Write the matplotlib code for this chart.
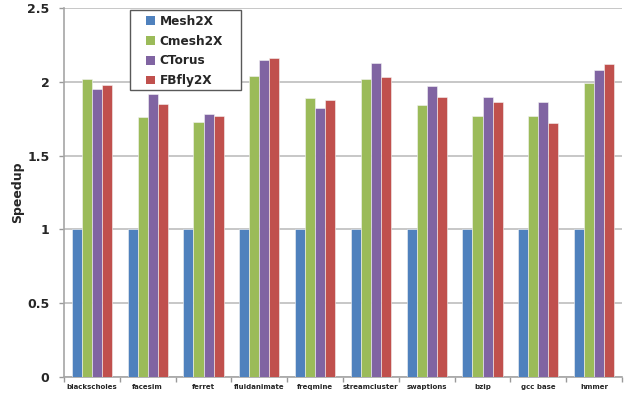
import matplotlib
matplotlib.use("Agg")
import matplotlib.pyplot as plt
from matplotlib.patches import Rectangle
from matplotlib.container import BarContainer
from matplotlib.legend_handler import HandlerPatch, update_from_first_child
import numpy as np

benchmarks = ["blackscholes", "facesim", "ferret", "fluidanimate", "freqmine",
              "streamcluster", "swaptions", "bzip", "gcc base", "hmmer"]
series_names = ["Mesh2X", "Cmesh2X", "CTorus", "FBfly2X"]
mesh2x = [1, 1, 1, 1, 1, 1, 1, 1, 1, 1]
cmesh2x = [2.02, 1.76, 1.73, 2.04, 1.89, 2.02, 1.84, 1.77, 1.77, 1.99]
ctorus = [1.95, 1.92, 1.78, 2.15, 1.82, 2.13, 1.97, 1.90, 1.86, 2.08]
fbfly2x = [1.98, 1.85, 1.77, 2.16, 1.88, 2.03, 1.90, 1.86, 1.72, 2.12]
yticks = [0, 0.5, 1, 1.5, 2, 2.5]
ytick_labels = ["0", "0.5", "1", "1.5", "2", "2.5"]

colors = ["#4F81BD", "#9BBB59", "#8064A2", "#C0504D"]
text_color = "#262626"

W, H = 629, 396
fig = plt.figure(figsize=(W / 100, H / 100), dpi=100)
ax = fig.add_axes([64 / W, 1 - 377 / H, 558 / W, 369 / H])

x = np.arange(len(benchmarks))
width = 0.18
data = [mesh2x, cmesh2x, ctorus, fbfly2x]
for i, (vals, name, c) in enumerate(zip(data, series_names, colors)):
    ax.bar(x + (i - 1.5) * width, vals, width, color=c, label=name,
           edgecolor="#F4F4F4", linewidth=0.4, zorder=3)

ax.set_xlim(-0.5, len(benchmarks) - 0.5)
ax.set_ylim(0, 2.5)
ax.set_yticks(yticks)
ax.set_yticklabels(ytick_labels, fontsize=9, fontweight="bold", color=text_color)
ax.yaxis.grid(True, color="#BEBEBE", linewidth=1.2, zorder=0)
ax.tick_params(axis="y", length=3.5, width=1, color="#999999", pad=7)

ax.set_xticks(x)
ax.set_xticklabels(benchmarks, fontsize=5, fontweight="bold", color=text_color)
ax.set_xticks(np.arange(-0.5, len(benchmarks)), minor=True)
ax.tick_params(axis="x", which="major", length=0, pad=5)
ax.tick_params(axis="x", which="minor", length=3.5, width=1, color="#999999")

for side in ["top", "right"]:
    ax.spines[side].set_visible(False)
for side in ["left", "bottom"]:
    ax.spines[side].set_color("#A6A6A6")
    ax.spines[side].set_linewidth(1.2)

ax.set_ylabel("Speedup", fontsize=9, fontweight="bold", color=text_color)
ax.yaxis.set_label_coords(-40 / 558, 0.5)


def square_handle(legend, orig_handle, xdescent, ydescent, width, height, fontsize):
    s = 0.74 * fontsize
    return Rectangle((-xdescent + width - s, -ydescent + (height - s) / 2), s, s)


def plain_square(legend_handle, orig_handle):
    update_from_first_child(legend_handle, orig_handle)
    legend_handle.set_edgecolor("none")


leg = ax.legend(loc="upper left", bbox_to_anchor=(131 / W, 1 - 12.5 / H),
                bbox_transform=fig.transFigure, frameon=False,
                prop={"weight": "bold", "size": 8.7},
                handlelength=1.8, handleheight=0.7, handletextpad=0.35,
                labelspacing=0.56, borderpad=0.2, borderaxespad=0,
                handler_map={BarContainer: HandlerPatch(patch_func=square_handle,
                                                        update_func=plain_square)})
for t in leg.get_texts():
    t.set_color(text_color)
leg.set_zorder(6)

# legend frame
frame = Rectangle((130 / W, 1 - 90 / H), 111 / W, 80 / H,
                  transform=fig.transFigure, facecolor="white",
                  edgecolor="#595959", linewidth=1.0, zorder=5, clip_on=False)
ax.add_patch(frame)

fig.savefig("out.png", dpi=100)
